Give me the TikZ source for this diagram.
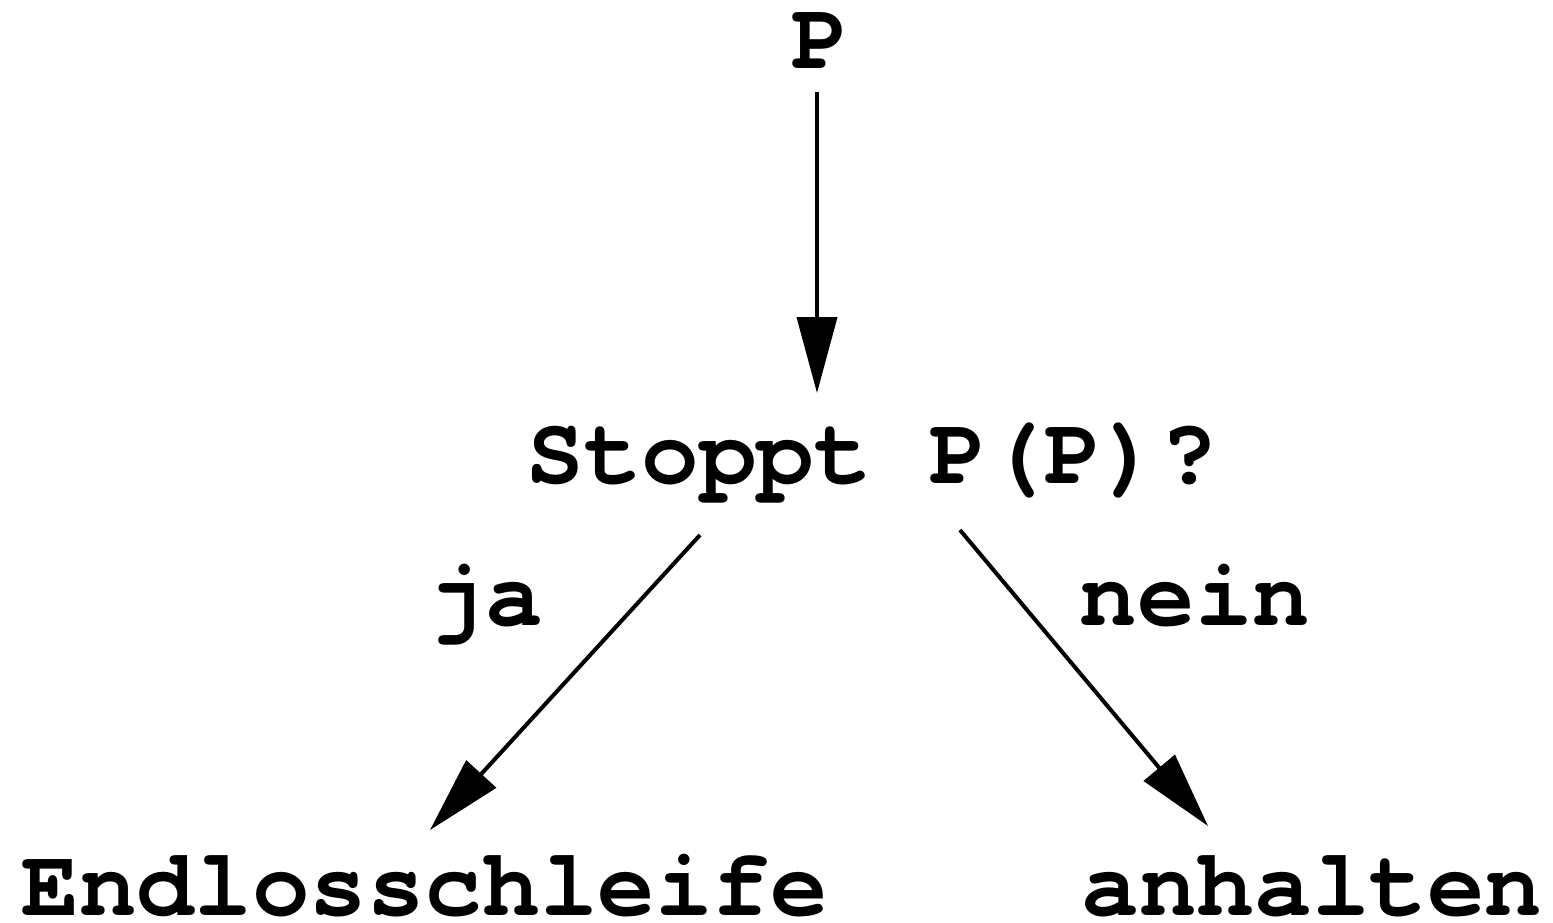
\documentclass[tikz,border=0pt]{standalone}
\usepackage{fontspec}
\setmonofont{TeX Gyre Cursor}
\usetikzlibrary{arrows.meta}
\tikzset{
  lbl/.style={anchor=base, inner sep=0pt, font=\fontsize{48pt}{48pt}\selectfont\ttfamily\bfseries},
  conn/.style={line width=2pt, -{Triangle[length=38pt,width=20pt]}}
}
\begin{document}
\begin{tikzpicture}[x=0.5pt,y=-0.5pt]
\useasboundingbox (0,0) rectangle (1553,922);
\node[lbl] (p) at (820,68) {P};
\node[lbl] (q) at (872,483) {Stoppt P(P)?};
\node[lbl] (ja) at (485,625) {ja};
\node[lbl] (nein) at (1195,625) {nein};
\node[lbl] (endl) at (425,915) {Endlosschleife};
\node[lbl] (anh) at (1312,915) {anhalten};
\coordinate (a1) at (817,92);
\coordinate (a2) at (817,393);
\coordinate (b1) at (700,535);
\coordinate (b2) at (430,830);
\coordinate (c1) at (960,530);
\coordinate (c2) at (1208,826);
\draw[conn] (a1) -- (a2);
\draw[conn] (b1) -- (b2);
\draw[conn] (c1) -- (c2);
\end{tikzpicture}
\end{document}
